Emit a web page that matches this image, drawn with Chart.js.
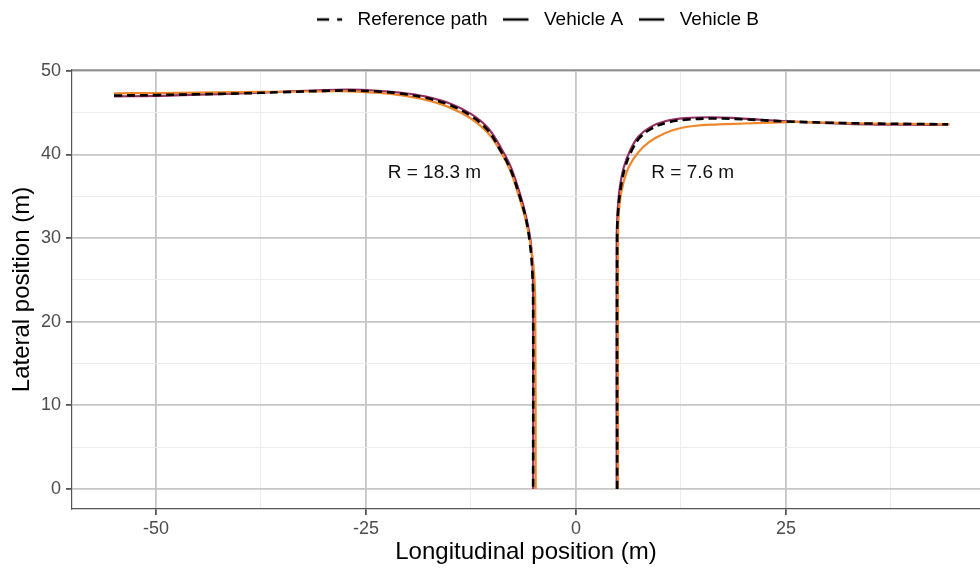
<!DOCTYPE html>
<html>
<head>
<meta charset="utf-8">
<script src="https://cdn.jsdelivr.net/npm/chart.js@4"></script>
<style>
  html, body { margin: 0; background: #fff; }
  #wrap { width: 980px; height: 570px; }
</style>
</head>
<body>
<div id="wrap"><canvas id="chart"></canvas></div>
<script>
// series names (legend order)
const seriesNames = ['Reference path', 'Vehicle A', 'Vehicle B'];

// left turn paths, [x, y] in metres
const refLeft = [[-55, 47.05], [-50, 47.1], [-45, 47.2], [-40, 47.3], [-35, 47.45], [-30, 47.6], [-27, 47.65],
  [-24, 47.55], [-21, 47.3], [-18, 46.8], [-15, 45.9], [-12.5, 44.6], [-10.5, 42.9], [-9, 40.5], [-7.8, 38.2],
  [-6.8, 35.3], [-6.0, 32.5], [-5.5, 29.5], [-5.2, 26], [-5.1, 22], [-5.1, 0]];
const vehALeft = [[-55, 46.95], [-50, 47.0], [-45, 47.15], [-40, 47.3], [-35, 47.5], [-30, 47.7], [-27, 47.75],
  [-24, 47.65], [-21, 47.4], [-18, 46.95], [-15, 46.1], [-12.5, 44.85], [-10.5, 43.2], [-9, 40.9], [-7.8, 38.6],
  [-6.8, 35.7], [-6.0, 32.8], [-5.4, 29.6], [-5.15, 26], [-5.1, 22], [-5.1, 0]];
const vehBLeft = [[-55, 47.3], [-50, 47.35], [-45, 47.4], [-40, 47.45], [-35, 47.5], [-30, 47.55], [-27, 47.55],
  [-24, 47.4], [-21, 47.1], [-18, 46.55], [-15, 45.6], [-12.5, 44.3], [-10.5, 42.6], [-9, 40.4], [-7.8, 38.0],
  [-6.8, 35.0], [-6.0, 32.2], [-5.4, 29.2], [-5.0, 26], [-4.85, 22], [-4.8, 0]];

// right turn paths
const refRight = [[4.9, 0], [4.9, 30], [5.0, 33], [5.3, 35.8], [5.8, 38.3], [6.6, 40.4], [7.6, 42.0], [9.0, 43.1],
  [10.8, 43.8], [13, 44.15], [16, 44.3], [19, 44.25], [22, 44.1], [25, 43.95], [30, 43.8], [35, 43.7],
  [40, 43.65], [44.3, 43.6]];
const vehARight = [[4.85, 0], [4.85, 30], [4.95, 33], [5.2, 35.9], [5.7, 38.5], [6.5, 40.6], [7.5, 42.2], [8.9, 43.3],
  [10.7, 44.0], [13, 44.35], [16, 44.45], [19, 44.35], [22, 44.15], [25, 43.95], [30, 43.75], [35, 43.6],
  [40, 43.55], [44.2, 43.55]];
const vehBRight = [[5.0, 0], [5.0, 30], [5.1, 33], [5.4, 35.5], [6.0, 37.8], [6.8, 39.4], [8.0, 40.9], [9.5, 42.0],
  [11.5, 42.9], [14, 43.4], [17, 43.6], [20, 43.7], [23, 43.8], [26, 43.9], [30, 43.8], [35, 43.7],
  [40, 43.65], [44.5, 43.6]];

// axis ticks
const xTicks = [-50, -25, 0, 25];
const yTicks = [0, 10, 20, 30, 40, 50];

// radius labels
const annoText = ['R = 18.3 m', 'R = 7.6 m'];
const annoX = [-16.85, 13.9];
const annoY = [37.8, 37.8];

const FONT = "'Liberation Sans', Arial, sans-serif";

// join both turns into one dataset, with a gap between them
function joinPaths(a, b) {
  const pts = a.map(p => ({ x: p[0], y: p[1] }));
  pts.push({ x: 0, y: null });
  return pts.concat(b.map(p => ({ x: p[0], y: p[1] })));
}

// small legend keys: black line, dashed for the reference
function legendKey(dash) {
  const c = document.createElement('canvas');
  c.width = 31; c.height = 6;
  const g = c.getContext('2d');
  g.strokeStyle = '#000';
  g.lineWidth = 2.5;
  g.setLineDash(dash);
  g.beginPath();
  g.moveTo(0, 3);
  g.lineTo(25, 3);
  g.stroke();
  return c;
}
const legendKeys = [legendKey([12, 8]), legendKey([]), legendKey([])];

const extras = {
  id: 'extras',
  afterLayout(chart) {
    const lg = chart.legend;
    lg.left += 48; lg.right += 48;
    lg.top -= 31; lg.bottom -= 31;
  },
  beforeDatasetsDraw(chart) {
    const a = chart.chartArea, ctx = chart.ctx;
    ctx.save();
    ctx.strokeStyle = '#555';
    ctx.lineWidth = 1.2;
    ctx.beginPath();
    ctx.moveTo(a.left, a.top);
    ctx.lineTo(a.right, a.top);
    ctx.stroke();
    ctx.restore();
  },
  afterDatasetsDraw(chart) {
    const ctx = chart.ctx, xs = chart.scales.x, ys = chart.scales.y;
    ctx.save();
    ctx.font = '19px ' + FONT;
    ctx.fillStyle = '#111';
    ctx.textAlign = 'center';
    ctx.textBaseline = 'middle';
    annoText.forEach((t, i) => {
      ctx.fillText(t, xs.getPixelForValue(annoX[i]), ys.getPixelForValue(annoY[i]));
    });
    ctx.restore();
  }
};

new Chart(document.getElementById('chart'), {
  type: 'scatter',
  data: {
    datasets: [
      { label: seriesNames[0], data: joinPaths(refLeft, refRight), borderColor: '#000', borderWidth: 2.6,
        borderDash: [8, 5], order: 0 },
      { label: seriesNames[1], data: joinPaths(vehALeft, vehARight), borderColor: '#962d62', borderWidth: 2.2,
        order: 2 },
      { label: seriesNames[2], data: joinPaths(vehBLeft, vehBRight), borderColor: '#f0862a', borderWidth: 2.2,
        order: 1 }
    ]
  },
  options: {
    animation: false,
    responsive: true,
    maintainAspectRatio: false,
    showLine: true,
    spanGaps: false,
    elements: { point: { radius: 0 }, line: { tension: 0.4 } },
    layout: { padding: { top: 25, right: 0, left: 0, bottom: 0 } },
    plugins: {
      tooltip: { enabled: false },
      legend: {
        position: 'top',
        labels: {
          usePointStyle: true,
          pointStyleWidth: 31,
          padding: 16,
          color: '#1a1a1a',
          font: { family: FONT, size: 19 },
          generateLabels: () => seriesNames.map((n, i) => ({
            text: n, pointStyle: legendKeys[i], fillStyle: '#000', strokeStyle: '#000',
            lineWidth: 0, hidden: false, datasetIndex: i
          }))
        }
      }
    },
    scales: {
      x: {
        type: 'linear',
        min: -60, max: 48.1,
        afterFit: s => { s.height = 61; },
        ticks: {
          stepSize: 12.5, includeBounds: false, padding: 3, maxRotation: 0, autoSkip: false,
          color: '#4d4d4d', font: { family: FONT, size: 18 },
          callback: v => xTicks.includes(v) ? String(v) : ''
        },
        grid: {
          color: c => xTicks.includes(c.tick.value) ? '#c6c6c6' : '#ececec',
          lineWidth: c => xTicks.includes(c.tick.value) ? 1.8 : 1,
          tickColor: c => xTicks.includes(c.tick.value) ? '#555' : 'rgba(0,0,0,0)',
          tickLength: 6
        },
        border: { color: '#555', width: 1.2 },
        title: {
          display: true, text: 'Longitudinal position (m)', color: '#000',
          font: { family: FONT, size: 24 }, padding: { top: 0, bottom: 3 }
        }
      },
      y: {
        type: 'linear',
        min: -2.4, max: 50.1,
        afterFit: s => { s.width = 72; },
        ticks: {
          stepSize: 5, includeBounds: false, padding: 5, autoSkip: false,
          color: '#4d4d4d', font: { family: FONT, size: 18 },
          callback: v => yTicks.includes(v) ? String(v) : ''
        },
        grid: {
          color: c => yTicks.includes(c.tick.value) ? '#c6c6c6' : '#ececec',
          lineWidth: c => yTicks.includes(c.tick.value) ? 1.8 : 1,
          tickColor: c => yTicks.includes(c.tick.value) ? '#555' : 'rgba(0,0,0,0)',
          tickLength: 6
        },
        border: { color: '#555', width: 1.2 },
        title: {
          display: true, text: 'Lateral position (m)', color: '#000',
          font: { family: FONT, size: 24 }, padding: { top: 8, bottom: 0 }
        }
      }
    }
  },
  plugins: [extras]
});
</script>
</body>
</html>
